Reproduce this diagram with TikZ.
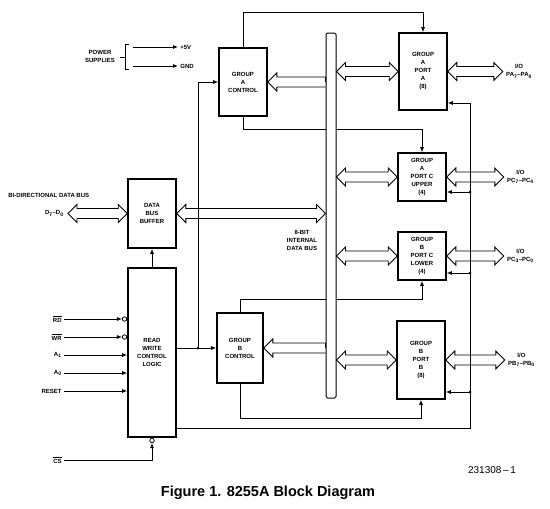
\documentclass[tikz,border=0pt]{standalone}
\usepackage{fontspec}
\setmainfont{Liberation Sans}
\usetikzlibrary{arrows.meta, positioning, calc}
\newcommand{\ovl}[1]{$\overline{\mbox{#1}}$}
% hollow bus arrows: head on both ends / head on the left end only
\newcommand{\busboth}[2]{\draw[bigarrow] (#1) -- ++(9,-9) -- ++(0,4) -- ($(#2)+(-9,-5)$) -- ++(0,-4) -- (#2) -- ++(-9,9) -- ++(0,-4) -- ($(#1)+(9,5)$) -- ++(0,4) -- cycle;}
\newcommand{\busleft}[2]{\draw[bigarrow] (#2) -- ($(#2)+(0,-5)$) -- ($(#1)+(9,-5)$) -- ++(0,-4) -- (#1) -- ++(9,9) -- ++(0,-4) -- ($(#2)+(0,5)$);}
\tikzset{
  every picture/.style={line width=0.8pt},
  blk/.style={draw, line width=1.6pt, fill=white, align=center, inner sep=1pt, font=\fontsize{6}{8}\selectfont\bfseries},
  conn/.style={line width=0.8pt},
  arr/.style={conn, -{Latex[length=5pt, width=4pt]}},
  sig/.style={align=center, inner sep=2pt, font=\fontsize{6}{8}\selectfont\bfseries},
  bubble/.style={circle, draw, line width=0.8pt, fill=white, minimum size=4.5pt, inner sep=0pt},
  dot/.style={circle, fill, minimum size=3pt, inner sep=0pt},
  bigarrow/.style={line width=0.9pt, line join=miter},
}

\begin{document}
\begin{tikzpicture}[x=1pt, y=-1pt]
  \useasboundingbox (0,0) rectangle (550,509);
  % blocks
  \node[blk, minimum width=48pt, minimum height=68pt] (grpA) at (243,82) {GROUP\\A\\CONTROL};
  \node[blk, minimum width=46pt, minimum height=70pt] (grpB) at (240,348) {GROUP\\B\\CONTROL};
  \node[blk, minimum width=48pt, minimum height=69pt] (buf) at (152,213.5) {DATA\\BUS\\BUFFER};
  \node[blk, minimum width=48pt, minimum height=169pt] (rw) at (152,352.5) {READ\\WRITE\\CONTROL\\LOGIC};
  \node[blk, minimum width=48pt, minimum height=77pt] (pa) at (423,71.5) {GROUP\\A\\PORT\\A\\(8)};
  \node[blk, minimum width=48pt, minimum height=48pt] (pcu) at (422,177) {GROUP\\A\\PORT C\\UPPER\\(4)};
  \node[blk, minimum width=48pt, minimum height=48pt] (pcl) at (422,256) {GROUP\\B\\PORT C\\LOWER\\(4)};
  \node[blk, minimum width=48pt, minimum height=78pt] (pb) at (421,360) {GROUP\\B\\PORT\\B\\(8)};

  % control lines that pass under the internal bus
  \draw[arr] (grpA.south) -- ++(0,13) -| (pcu.north);
  \draw[arr] (grpB.north) -- ++(0,-13) -| (pcl.south);
  \node[draw, line width=1pt, fill=white, rounded corners=1.5pt, minimum width=10pt, minimum height=365pt, inner sep=0pt] (bus) at (331,215.5) {};
  \node[sig] (intbus) at (302,240) {8-BIT\\INTERNAL\\DATA BUS};

  \draw[arr] (grpA.north) -- ++(0,-35) -| (pa.north);
  \draw[arr] (grpB.south) -- ++(0,35) -| (pb.south);

  % data paths
  \coordinate (dext) at (68,213.5);
  \busboth{dext}{buf.west}
  \busboth{buf.east}{buf.east -| bus.west}
  \busleft{grpA.east}{grpA.east -| bus.west}
  \busleft{grpB.east}{grpB.east -| bus.west}
  \busboth{pa.west -| bus.east}{pa.west}
  \busboth{pcu.west -| bus.east}{pcu.west}
  \busboth{pcl.west -| bus.east}{pcl.west}
  \busboth{pb.west -| bus.east}{pb.west}
  \coordinate (ioA) at ($(pa.east)+(55,0)$);
  \coordinate (ioU) at ($(pcu.east)+(57,0)$);
  \coordinate (ioL) at ($(pcl.east)+(57,0)$);
  \coordinate (ioB) at ($(pb.east)+(59,0)$);
  \busboth{pa.east}{ioA}
  \busboth{pcu.east}{ioU}
  \busboth{pcl.east}{ioL}
  \busboth{pb.east}{ioB}
  \node[sig, right=1pt of ioA] (lblA) {I/O\\PA\textsubscript{7}–PA\textsubscript{0}};
  \node[sig, right=1pt of ioU] (lblU) {I/O\\PC\textsubscript{7}–PC\textsubscript{4}};
  \node[sig, right=1pt of ioL] (lblL) {I/O\\PC\textsubscript{3}–PC\textsubscript{0}};
  \node[sig, right=1pt of ioB] (lblB) {I/O\\PB\textsubscript{7}–PB\textsubscript{0}};

  % read/write control to the port latches
  \coordinate (rwout) at ($(rw.south east)+(0,-9)$);
  \coordinate (tapA) at (470,103);
  \coordinate (tapU) at (470,192);
  \coordinate (tapL) at (470,273);
  \coordinate (tapB) at (470,392);
  \draw[arr] (rwout) -| (tapA) -- (tapA -| pa.east);
  \draw[arr] (tapU) -- (tapU -| pcu.east);
  \draw[arr] (tapL) -- (tapL -| pcl.east);
  \draw[arr] (tapB) -- (tapB -| pb.east);
  \node[dot] (dU) at (tapU) {};
  \node[dot] (dL) at (tapL) {};
  \node[dot] (dB) at (tapB) {};

  % read/write control to group controls and buffer
  \coordinate (tapG) at (198,348);
  \draw[arr] (rw.east |- grpB.west) -- (grpB.west);
  \draw[arr] (tapG) |- (grpA.west);
  \node[dot] (dG) at (tapG) {};
  \draw[arr] (rw.north) -- (buf.south);

  % inputs
  \node[sig, anchor=east] (rd) at (64,319) {\ovl{RD}};
  \node[sig, anchor=east] (wr) at (64,337) {\ovl{WR}};
  \node[sig, anchor=east] (a1) at (64,355) {A\textsubscript{1}};
  \node[sig, anchor=east] (a0) at (64,373) {A\textsubscript{0}};
  \node[sig, anchor=east] (reset) at (64,391) {RESET};
  \node[sig, anchor=east] (cs) at (64,460) {\ovl{CS}};
  \node[bubble, anchor=east] (rdb) at (rd -| rw.west) {};
  \node[bubble, anchor=east] (wrb) at (wr -| rw.west) {};
  \node[bubble, anchor=north] (csb) at (rw.south) {};
  \draw[arr] (rd) -- (rdb);
  \draw[arr] (wr) -- (wrb);
  \draw[arr] (a1) -- (a1 -| rw.west);
  \draw[arr] (a0) -- (a0 -| rw.west);
  \draw[arr] (reset) -- (reset -| rw.west);
  \draw[arr] (cs) -| (csb);

  % power and data bus labels
  \node[sig] (pwr) at (100,56) {POWER\\SUPPLIES};
  \draw[conn] (129,44) -- (125,44) -- (125,69) -- (129,69) (125,57) -- (120,57);
  \node[sig, anchor=west] (v5) at (178,47) {+5V};
  \node[sig, anchor=west] (gnd) at (178,66) {GND};
  \coordinate (p5) at (133,47);
  \coordinate (pg) at (133,66);
  \draw[arr] (p5) -- (v5);
  \draw[arr] (pg) -- (gnd);
  \node[sig, anchor=west] (bidir) at (6,195) {BI-DIRECTIONAL DATA BUS};
  \node[sig, anchor=east] (dlbl) at (66,213.5) {D\textsubscript{7}–D\textsubscript{0}};

  % caption
  \node[font=\fontsize{10}{12}\selectfont] (figno) at (492,470) {231308\,–\,1};
  \node[font=\fontsize{14.5}{17}\selectfont\bfseries] (cap) at (268,493) {Figure 1. 8255A Block Diagram};
\end{tikzpicture}
\end{document}
